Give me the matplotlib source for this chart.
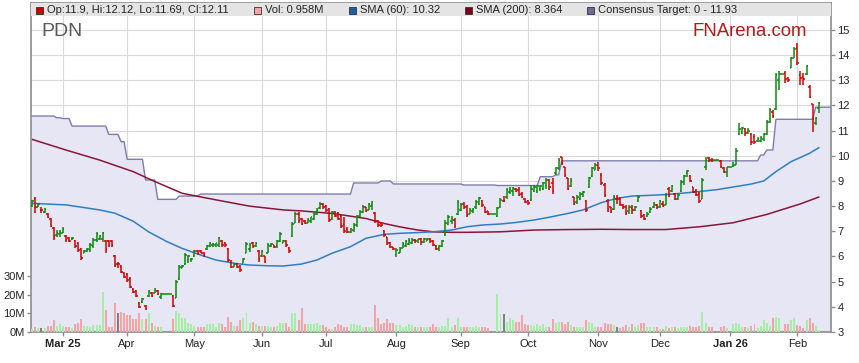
import numpy as np
import pandas as pd
import matplotlib
matplotlib.use('Agg')
import matplotlib.pyplot as plt
from matplotlib.patches import Rectangle

plt.rcParams['font.family'] = ['Liberation Sans', 'DejaVu Sans']

# daily bars, PDN, 17 Feb 2025 .. 11 Feb 2026 (weekdays, holidays flat)
opens = [8.00, 8.30, 7.98, 7.85, 7.75, 7.70, 7.50, 7.15, 6.85, 6.90,
         6.95, 6.80, 6.75, 6.68, 6.60, 6.55, 6.30, 6.15, 6.20, 6.25,
         6.40, 6.65, 6.70, 6.70, 6.60, 6.60, 6.60, 6.00, 5.70, 5.60,
         5.35, 5.30, 5.10, 4.70, 4.62, 4.15, 4.20, 4.05, 4.45, 4.55,
         4.55, 4.62, 4.40, 4.52, 4.52, 4.52, 4.45, 4.35, 5.10, 5.55,
         5.70, 5.85, 5.85, 6.00, 6.22, 6.20, 6.15, 6.30, 6.42, 6.45,
         6.45, 6.45, 6.62, 6.55, 6.30, 5.80, 5.60, 5.70, 5.62, 5.75,
         6.15, 6.30, 6.55, 6.42, 6.20, 6.00, 6.00, 6.15, 6.42, 6.45,
         6.40, 6.60, 6.55, 6.60, 6.35, 6.80, 7.35, 7.70, 7.50, 7.42,
         7.35, 7.40, 7.50, 7.70, 7.92, 8.08, 8.00, 7.88, 7.50, 7.75,
         7.72, 7.60, 7.30, 7.10, 6.98, 7.05, 7.25, 7.60, 7.75, 7.95,
         7.85, 8.00, 7.72, 7.42, 7.35, 7.02, 6.78, 6.55, 6.38, 6.05,
         6.15, 6.35, 6.42, 6.50, 6.55, 6.65, 6.60, 6.68, 6.58, 6.62,
         6.68, 6.60, 6.42, 6.32, 6.40, 6.85, 7.30, 7.40, 7.45, 7.70,
         7.85, 8.10, 7.95, 7.70, 7.80, 7.95, 8.10, 8.20, 7.95, 7.80,
         7.70, 7.70, 7.62, 7.95, 8.20, 8.35, 8.55, 8.60, 8.70, 8.65,
         8.50, 8.28, 8.20, 8.25, 8.60, 8.60, 8.70, 8.70, 8.80, 9.05,
         8.90, 9.30, 9.50, 9.95, 9.55, 9.10, 8.80, 8.35, 8.15, 8.30,
         8.50, 8.20, 8.75, 9.20, 9.45, 9.65, 9.25, 8.85, 8.20, 7.95,
         7.90, 8.30, 8.30, 8.05, 7.98, 7.80, 7.92, 7.85, 8.20, 7.80,
         7.65, 7.60, 7.75, 7.95, 8.05, 7.95, 8.10, 8.05, 8.70, 8.60,
         8.50, 8.30, 8.60, 8.95, 9.30, 9.20, 8.75, 8.60, 8.50, 8.30,
         9.55, 9.90, 9.85, 9.83, 9.83, 9.80, 9.52, 9.35, 9.55, 9.58,
         9.65, 10.85, 10.95, 11.05, 10.95, 10.85, 10.75, 10.60, 10.60, 10.65,
         10.85, 11.35, 11.75, 11.85, 13.00, 13.25, 13.30, 13.10, 13.50, 13.90,
         14.30, 13.20, 13.15, 13.25, 12.75, 12.05, 11.30, 11.90]
highs = [8.25, 8.36, 8.14, 7.98, 7.92, 7.71, 7.51, 7.18, 7.05, 7.05,
         7.18, 6.85, 6.79, 6.79, 6.65, 6.59, 6.32, 6.26, 6.32, 6.53,
         6.73, 6.98, 6.85, 6.98, 6.65, 6.65, 6.65, 6.06, 5.79, 5.66,
         5.39, 5.33, 5.20, 4.73, 4.67, 4.20, 4.35, 4.07, 4.67, 4.60,
         4.73, 4.67, 4.53, 4.52, 4.52, 4.52, 4.47, 5.07, 5.66, 5.66,
         6.13, 6.06, 5.92, 6.26, 6.26, 6.26, 6.19, 6.46, 6.59, 6.53,
         6.53, 6.79, 6.65, 6.59, 6.32, 5.86, 5.73, 5.73, 5.66, 5.93,
         6.59, 6.53, 6.59, 6.59, 6.26, 6.26, 6.02, 6.53, 6.53, 6.46,
         6.65, 6.98, 6.65, 6.65, 6.39, 7.38, 7.78, 7.78, 7.52, 7.45,
         7.52, 7.58, 7.78, 7.91, 8.18, 8.12, 8.05, 7.92, 7.80, 7.80,
         7.78, 7.65, 7.58, 7.18, 7.12, 7.32, 7.65, 7.85, 8.05, 7.98,
         8.12, 8.20, 7.78, 7.45, 7.38, 7.05, 6.79, 6.59, 6.39, 6.32,
         6.39, 6.59, 6.65, 6.72, 6.72, 6.70, 6.70, 6.72, 6.72, 6.75,
         6.72, 6.65, 6.46, 6.46, 6.65, 7.45, 7.65, 7.60, 7.53, 8.25,
         8.12, 8.18, 8.05, 7.92, 7.92, 8.25, 8.38, 8.25, 7.98, 7.82,
         7.70, 7.70, 7.98, 8.31, 8.40, 8.71, 8.75, 8.78, 8.72, 8.78,
         8.55, 8.31, 8.25, 8.84, 8.82, 8.84, 8.85, 8.95, 9.10, 9.08,
         9.10, 9.57, 9.90, 9.97, 9.57, 9.10, 9.10, 8.38, 8.45, 8.55,
         8.60, 8.25, 9.17, 9.57, 9.70, 9.75, 9.30, 8.90, 8.30, 7.97,
         8.44, 8.44, 8.35, 8.10, 8.05, 8.05, 8.05, 8.00, 8.44, 7.85,
         7.70, 7.75, 7.95, 8.18, 8.10, 8.25, 8.22, 8.51, 8.77, 8.84,
         8.51, 8.50, 9.04, 9.24, 9.44, 9.22, 8.77, 8.70, 8.57, 9.10,
         9.97, 9.95, 9.90, 9.83, 9.83, 9.82, 9.57, 9.57, 9.55, 9.77,
         10.29, 11.29, 11.15, 11.12, 11.10, 10.90, 10.85, 10.75, 10.80, 10.90,
         11.42, 11.89, 11.83, 13.28, 13.35, 13.25, 13.35, 13.15, 13.94, 14.34,
         14.47, 13.35, 13.30, 13.61, 12.82, 12.07, 11.56, 12.12]
lows = [7.97, 7.73, 7.95, 7.71, 7.71, 7.51, 7.18, 6.65, 6.79, 6.79,
        6.92, 6.59, 6.59, 6.65, 6.32, 6.19, 5.86, 6.13, 6.19, 6.19,
        6.32, 6.59, 6.65, 6.59, 6.13, 6.39, 6.39, 5.59, 5.53, 5.33,
        5.13, 5.00, 4.73, 4.53, 4.40, 3.94, 4.15, 3.87, 4.40, 4.40,
        4.53, 4.47, 4.33, 4.52, 4.52, 4.52, 4.00, 4.34, 5.07, 5.53,
        5.66, 5.73, 5.79, 5.99, 6.06, 6.13, 5.99, 6.26, 6.39, 6.39,
        6.39, 6.39, 6.39, 6.39, 5.79, 5.53, 5.57, 5.53, 5.39, 5.73,
        6.13, 6.19, 6.32, 6.39, 5.79, 5.99, 5.73, 6.13, 6.39, 6.32,
        6.35, 6.59, 6.52, 6.39, 6.13, 6.79, 7.32, 7.32, 7.26, 7.30,
        7.32, 7.32, 7.45, 7.65, 7.90, 7.90, 7.78, 7.38, 7.45, 7.58,
        7.45, 7.13, 6.92, 6.92, 6.92, 6.98, 7.18, 7.58, 7.71, 7.78,
        7.85, 7.85, 7.32, 7.18, 7.18, 6.79, 6.46, 6.32, 6.26, 5.99,
        6.12, 6.32, 6.39, 6.45, 6.50, 6.52, 6.55, 6.45, 6.52, 6.60,
        6.55, 6.40, 6.26, 6.23, 6.38, 6.80, 7.25, 7.30, 7.13, 7.65,
        7.80, 7.90, 7.58, 7.68, 7.72, 7.90, 8.05, 7.98, 7.72, 7.65,
        7.70, 7.70, 7.58, 7.91, 8.15, 8.30, 8.50, 8.40, 8.55, 8.40,
        8.32, 8.11, 8.05, 8.20, 8.55, 8.51, 8.62, 8.63, 8.70, 8.65,
        8.50, 9.24, 9.45, 9.63, 9.17, 8.63, 8.75, 8.05, 8.10, 8.25,
        8.35, 7.78, 8.71, 9.17, 9.43, 9.40, 8.84, 8.38, 7.78, 7.73,
        7.85, 8.10, 8.00, 7.90, 7.65, 7.70, 7.70, 7.82, 8.18, 7.53,
        7.45, 7.55, 7.72, 7.91, 7.88, 7.91, 7.95, 8.05, 8.38, 8.57,
        8.25, 8.25, 8.57, 8.84, 9.17, 8.95, 8.51, 8.40, 8.11, 8.28,
        9.44, 9.75, 9.75, 9.83, 9.83, 9.50, 9.30, 9.17, 9.55, 9.55,
        9.63, 10.82, 10.85, 10.80, 10.85, 10.43, 10.45, 10.55, 10.55, 10.60,
        10.82, 11.29, 11.50, 11.83, 12.61, 13.25, 12.90, 12.95, 13.48, 13.88,
        13.61, 12.82, 12.82, 13.21, 12.29, 10.96, 11.23, 11.69]
closes = [8.20, 7.95, 8.10, 7.85, 7.88, 7.55, 7.20, 6.80, 6.95, 6.98,
          7.10, 6.65, 6.62, 6.75, 6.40, 6.25, 5.95, 6.22, 6.28, 6.45,
          6.65, 6.90, 6.82, 6.95, 6.30, 6.45, 6.45, 5.65, 5.70, 5.40,
          5.18, 5.05, 4.80, 4.58, 4.45, 4.00, 4.30, 3.92, 4.62, 4.45,
          4.68, 4.50, 4.52, 4.52, 4.52, 4.52, 4.05, 5.00, 5.60, 5.62,
          6.05, 6.00, 5.90, 6.20, 6.10, 6.15, 6.05, 6.42, 6.55, 6.50,
          6.52, 6.72, 6.45, 6.45, 5.85, 5.60, 5.70, 5.58, 5.45, 5.90,
          6.50, 6.45, 6.40, 6.55, 5.90, 6.20, 5.80, 6.45, 6.50, 6.38,
          6.60, 6.90, 6.62, 6.45, 6.20, 7.30, 7.70, 7.45, 7.30, 7.35,
          7.45, 7.55, 7.70, 7.85, 8.10, 7.95, 7.85, 7.45, 7.75, 7.62,
          7.50, 7.20, 7.00, 6.98, 7.10, 7.25, 7.55, 7.78, 7.98, 7.82,
          8.10, 8.15, 7.40, 7.25, 7.25, 6.85, 6.55, 6.38, 6.30, 6.25,
          6.30, 6.50, 6.60, 6.62, 6.65, 6.60, 6.68, 6.58, 6.68, 6.70,
          6.62, 6.45, 6.30, 6.40, 6.60, 7.35, 7.55, 7.50, 7.20, 8.15,
          8.05, 7.95, 7.65, 7.85, 7.88, 8.18, 8.32, 8.05, 7.78, 7.70,
          7.70, 7.70, 7.92, 8.25, 8.20, 8.65, 8.70, 8.72, 8.60, 8.45,
          8.38, 8.18, 8.12, 8.70, 8.75, 8.80, 8.80, 8.90, 9.05, 8.75,
          8.60, 9.50, 9.85, 9.70, 9.25, 8.70, 9.00, 8.10, 8.38, 8.50,
          8.55, 7.85, 9.10, 9.50, 9.65, 9.50, 8.90, 8.45, 7.90, 7.80,
          8.35, 8.30, 8.10, 7.95, 7.72, 7.95, 7.85, 7.95, 8.38, 7.60,
          7.50, 7.70, 7.90, 8.10, 7.95, 8.20, 8.00, 8.45, 8.45, 8.80,
          8.30, 8.45, 8.95, 9.20, 9.40, 9.00, 8.55, 8.45, 8.20, 9.05,
          9.85, 9.83, 9.83, 9.83, 9.83, 9.55, 9.35, 9.55, 9.55, 9.62,
          10.20, 11.05, 11.10, 10.90, 11.00, 10.55, 10.55, 10.68, 10.72, 10.85,
          11.35, 11.80, 11.60, 13.20, 13.25, 13.25, 13.05, 13.00, 13.90, 14.25,
          13.70, 13.10, 13.05, 13.55, 12.35, 11.45, 11.50, 12.11]
volumes = [1.6, 2.9, 2.3, 2.3, 2.3, 3.4, 3.4, 6.5, 3.4, 4.3,
           3.2, 2.9, 2.9, 2.0, 4.1, 4.7, 6.8, 3.4, 3.4, 2.9,
           3.6, 3.8, 3.6, 21.7, 11.8, 2.9, 2.9, 15.4, 10.4, 10.9,
           10.0, 9.1, 9.1, 7.0, 7.0, 10.0, 7.0, 6.8, 10.0, 4.7,
           3.4, 2.9, 2.9, 0, 0, 0, 6.8, 11.5, 10.0, 7.5,
           7.4, 4.7, 4.3, 3.4, 2.9, 2.9, 2.9, 4.3, 4.3, 4.3,
           2.9, 4.7, 4.3, 2.9, 8.2, 5.6, 3.4, 3.4, 6.5, 7.4,
           10.0, 4.7, 5.6, 4.3, 3.4, 3.4, 3.4, 3.4, 2.9, 2.9,
           3.0, 5.0, 4.7, 4.7, 2.9, 10.0, 10.0, 6.5, 12.7, 4.3,
           4.3, 4.3, 4.3, 4.7, 3.6, 3.6, 2.9, 1.6, 1.6, 2.9,
           4.1, 3.6, 2.9, 2.9, 4.3, 4.1, 3.6, 3.6, 2.9, 2.9,
           2.9, 2.5, 14.5, 7.4, 4.3, 5.0, 6.8, 5.0, 4.7, 3.6,
           3.6, 2.9, 3.2, 4.1, 3.8, 2.9, 2.9, 2.9, 2.9, 2.5,
           2.5, 4.3, 2.9, 2.5, 3.4, 3.4, 7.4, 2.9, 3.6, 7.4,
           2.9, 2.9, 2.9, 2.9, 2.9, 3.4, 2.9, 2.9, 2.9, 2.0,
           0, 0, 20.4, 9.9, 9.9, 5.6, 7.4, 6.5, 5.6, 5.6,
           9.1, 4.3, 3.8, 3.8, 3.2, 4.1, 3.2, 4.1, 2.9, 2.9,
           6.8, 5.0, 5.6, 5.6, 4.1, 5.6, 3.8, 2.9, 2.9, 2.9,
           2.9, 6.5, 5.6, 5.0, 2.9, 2.9, 2.9, 4.7, 4.3, 4.1,
           3.8, 2.9, 2.3, 2.9, 3.8, 2.9, 4.3, 2.9, 3.8, 4.7,
           5.0, 2.5, 2.5, 2.9, 2.5, 1.6, 1.4, 3.4, 2.3, 2.9,
           2.5, 2.3, 2.5, 2.9, 2.9, 3.2, 2.9, 2.9, 3.4, 10.6,
           4.7, 2.9, 2.5, 0, 0, 2.5, 3.4, 2.0, 0, 4.3,
           5.0, 4.3, 2.9, 2.9, 2.3, 3.4, 4.1, 2.3, 3.2, 6.5,
           5.0, 3.2, 7.7, 8.2, 7.3, 0, 4.3, 4.3, 6.5, 7.7,
           3.8, 3.2, 2.3, 6.5, 7.7, 4.7, 3.2, 0.958]

# moving averages at some bars
sma60_at = [0, 11, 22, 27, 33, 38, 44, 49, 55, 60, 66, 71, 77, 82, 88, 93,
            98, 104, 109, 115, 120, 126, 131, 137, 142, 147, 153, 158, 164,
            169, 175, 180, 186, 191, 196, 202, 207, 213, 218, 224, 229, 235,
            239, 243, 248, 254, 257]
sma60 = [8.11, 8.05, 7.85, 7.72, 7.40, 6.98, 6.59, 6.32, 6.06, 5.86, 5.73,
         5.66, 5.63, 5.62, 5.70, 5.86, 6.13, 6.39, 6.72, 6.88, 6.92, 6.95,
         6.98, 7.05, 7.18, 7.25, 7.29, 7.35, 7.45, 7.56, 7.71, 7.85, 8.14,
         8.31, 8.40, 8.43, 8.46, 8.52, 8.58, 8.66, 8.76, 8.88, 9.00, 9.37,
         9.77, 10.10, 10.32]
sma200_at = [0, 11, 22, 33, 40, 49, 60, 71, 82, 88, 98, 109, 115, 120, 126,
             131, 137, 142, 153, 164, 175, 186, 196, 207, 218, 229, 240, 251, 257]
sma200 = [10.65, 10.23, 9.83, 9.37, 8.98, 8.51, 8.25, 8.00, 7.85, 7.81, 7.71,
          7.51, 7.31, 7.18, 7.05, 6.98, 6.96, 6.96, 6.98, 7.05, 7.07, 7.08,
          7.07, 7.07, 7.18, 7.34, 7.67, 8.09, 8.36]

# consensus target: bar where each level starts
target_from = [0, 8, 10, 13, 25, 29, 31, 37, 41, 48, 55, 105, 114, 118, 141,
               152, 166, 171, 173, 238, 240, 243, 256]
target = [11.58, 11.51, 11.48, 11.18, 10.85, 10.56, 9.86, 9.04, 8.27, 8.40,
          8.48, 8.92, 9.00, 8.88, 8.84, 8.82, 9.17, 9.24, 9.80, 10.03, 10.23,
          11.45, 11.93]

n = len(closes)
dates = pd.bdate_range('2025-02-17', periods=n)
idx = np.arange(n)
o, h, l, c, v = map(np.array, (opens, highs, lows, closes, volumes))
cons = np.repeat(target, np.diff(target_from + [n]))

up = (c > o) | (h == l)
bar_cols = np.where(up, '#0a8a0a', '#d40000')
vol_cols = np.where(c > o, '#a3f0a3', np.where(c < o, '#f7a3a3', '#808080'))

fig = plt.figure(figsize=(8.59, 3.63), dpi=100)
ax = fig.add_axes([31/859, 31/363, 800/859, 329/363])
axv = ax.twinx()

x0, x1 = -0.42, 261.0
ax.set_xlim(x0, x1)
ax.set_ylim(3, 16.07)
axv.set_ylim(0, 176.9)

# consensus target band
xf = np.r_[x0, idx, x1]
cf = np.r_[cons[0], cons, cons[-1]]
ax.fill_between(xf, cf, 3, color='#e6e6f5', lw=0, zorder=1)
ax.plot(xf, cf, color='#7c7cab', lw=1.0, zorder=2)

ax.plot(sma200_at, sma200, color='#8a1538', lw=1.1, zorder=2)
ax.plot(sma60_at, sma60, color='#2f7fc0', lw=1.1, zorder=2)

# OHLC bars
ax.vlines(idx, l, h, colors=bar_cols, lw=1.1, zorder=3)
ax.hlines(o, idx - 0.5, idx, colors=bar_cols, lw=1.1, zorder=3)
ax.hlines(c, idx, idx + 0.5, colors=bar_cols, lw=1.1, zorder=3)

axv.bar(idx, v, width=0.65, color=vol_cols, lw=0, zorder=2)

# month ticks
starts = [i for i in range(1, n) if dates[i].month != dates[i - 1].month]
labels = []
for k, i in enumerate(starts):
    d = dates[i]
    labels.append(d.strftime('%b %y') if (k == 0 or d.month == 1) else d.strftime('%b'))
ax.set_xticks(starts)
ax.set_xticklabels(labels)
for t in ax.get_xticklabels():
    if ' ' in t.get_text():
        t.set_fontweight('bold')

ax.set_yticks(range(3, 16))
ax.set_axisbelow(True)
ax.grid(True, color='#d9d9d9', lw=0.8)
ax.yaxis.tick_right()
axv.yaxis.tick_left()
axv.set_yticks([0, 10, 20, 30])
axv.set_yticklabels(['0M', '10M', '20M', '30M'])

for a in (ax, axv):
    a.tick_params(colors='#8c8c8c', labelcolor='#222222', labelsize=8,
                  length=3, width=1, pad=1.5)
ax.tick_params(axis='x', pad=2)
for s in ax.spines.values():
    s.set_color('#8c8c8c')
    s.set_linewidth(1.2)
for s in axv.spines.values():
    s.set_visible(False)

# header band with legend
axv.add_patch(Rectangle((0, 1 - 13/329), 1, 13/329, transform=axv.transAxes,
                        facecolor='#e4e4e4', edgecolor='none', zorder=10,
                        clip_on=False))
items = [(36, '#cc0000', 'Op:11.9, Hi:12.12, Lo:11.69, Cl:12.11'),
         (254, '#f4a6a6', 'Vol: 0.958M'),
         (349, '#1f5fa0', 'SMA (60): 10.32'),
         (465, '#7a0020', 'SMA (200): 8.364'),
         (587, '#6b6b9b', 'Consensus Target: 0 - 11.93')]
for px, col, txt in items:
    fig.patches.append(Rectangle((px/859, (363 - 13.5)/363), 7/859, 7/363,
                                 transform=fig.transFigure, facecolor=col,
                                 edgecolor='#333333', lw=0.6))
    fig.text((px + 11)/859, (363 - 10)/363, txt, fontsize=8.0,
             color='#222222', va='center', ha='left')

fig.text(41/859, (363 - 32)/363, 'PDN', fontsize=14, color='#5a5a5a',
         va='center', ha='left')
fig.text(693/859, (363 - 32)/363, 'FNArena.com', fontsize=13.4,
         color='#b31b1b', va='center', ha='left')

fig.savefig('out.png', dpi=100, facecolor='white')
